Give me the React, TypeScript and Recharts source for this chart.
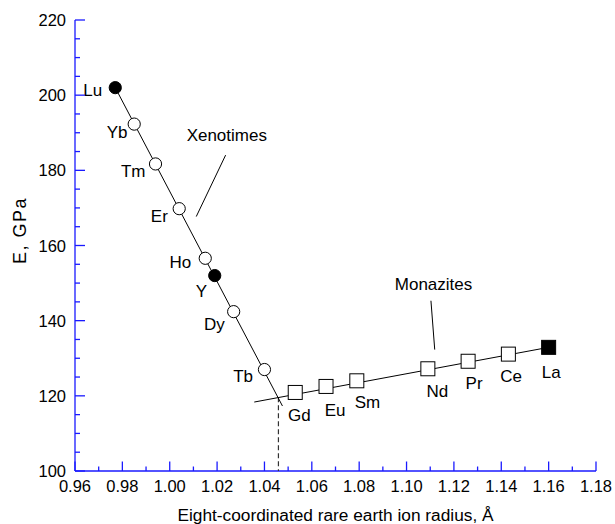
import React from 'react';
import { ScatterChart, Scatter, XAxis, YAxis } from 'recharts';

// ---- data ----
const xenotimeNames = ['Lu', 'Yb', 'Tm', 'Er', 'Ho', 'Y', 'Dy', 'Tb'];
const xenotimeRadius = [0.977, 0.985, 0.994, 1.004, 1.015, 1.019, 1.027, 1.04];
const xenotimeModulus = [202, 192.3, 181.7, 169.8, 156.6, 152, 142.4, 127];
const xenotimeFilled = ['Lu', 'Y'];

const monaziteNames = ['Gd', 'Eu', 'Sm', 'Nd', 'Pr', 'Ce', 'La'];
const monaziteRadius = [1.053, 1.066, 1.079, 1.109, 1.126, 1.143, 1.16];
const monaziteModulus = [120.9, 122.5, 124, 127.2, 129.2, 131.1, 132.9];
const monaziteFilled = ['La'];

const xenotimeFitX = [0.977, 1.0476];
const xenotimeFitY = [202, 117.3];
const monaziteFitX = [1.0357, 1.16];
const monaziteFitY = [118.35, 132.9];
const crossoverX = [1.0459, 1.0459];
const crossoverY = [119.6, 100];

const xenoLeaderX = [1.0236, 1.0112];
const xenoLeaderY = [184.05, 167.7];
const monaLeaderX = [1.1103, 1.1119];
const monaLeaderY = [145.3, 132.3];

const annotationTexts = ['Xenotimes', 'Monazites'];
const annotationX = [1.0241, 1.1114];
const annotationY = [189.5, 149.7];

const xTicks = [
  0.96, 0.97, 0.98, 0.99, 1.0, 1.01, 1.02, 1.03, 1.04, 1.05, 1.06, 1.07,
  1.08, 1.09, 1.1, 1.11, 1.12, 1.13, 1.14, 1.15, 1.16, 1.17, 1.18,
];
const yTicks = [
  100, 105, 110, 115, 120, 125, 130, 135, 140, 145, 150, 155, 160, 165, 170,
  175, 180, 185, 190, 195, 200, 205, 210, 215, 220,
];
const xDomain = [0.96, 1.18];
const yDomain = [100, 220];
const xTitle = 'Eight-coordinated rare earth ion radius, Å';
const yTitle = 'E, GPa';

// ---- layout / style (not data) ----
const FONT = '"Liberation Sans", Arial, Helvetica, sans-serif';
const AXIS = '#1a1aff';
const labelPlacement: Record<string, { anchor: string; dx: number; dy: number }> = {
  Lu: { anchor: 'end', dx: -13, dy: 2.5 },
  Yb: { anchor: 'end', dx: -6.7, dy: 7.9 },
  Tm: { anchor: 'end', dx: -10, dy: 7.5 },
  Er: { anchor: 'end', dx: -11.4, dy: 7.8 },
  Ho: { anchor: 'end', dx: -14, dy: 3.4 },
  Y: { anchor: 'end', dx: -7.7, dy: 15.1 },
  Dy: { anchor: 'end', dx: -9, dy: 12.5 },
  Tb: { anchor: 'end', dx: -11.4, dy: 6.5 },
  Gd: { anchor: 'middle', dx: 4.2, dy: 22.8 },
  Eu: { anchor: 'middle', dx: 9, dy: 23.2 },
  Sm: { anchor: 'middle', dx: 10.7, dy: 21 },
  Nd: { anchor: 'middle', dx: 9.5, dy: 22.5 },
  Pr: { anchor: 'middle', dx: 6, dy: 21.8 },
  Ce: { anchor: 'middle', dx: 2.7, dy: 21.5 },
  La: { anchor: 'middle', dx: 2.5, dy: 24.4 },
};

const zipPts = (xs: number[], ys: number[]) => xs.map((x, i) => ({ x, y: ys[i] }));

const xenotimeData = xenotimeNames.map((name, i) => ({
  name,
  x: xenotimeRadius[i],
  y: xenotimeModulus[i],
  filled: xenotimeFilled.includes(name),
}));
const monaziteData = monaziteNames.map((name, i) => ({
  name,
  x: monaziteRadius[i],
  y: monaziteModulus[i],
  filled: monaziteFilled.includes(name),
}));
const annotationData = annotationTexts.map((text, i) => ({
  text,
  x: annotationX[i],
  y: annotationY[i],
}));

const Empty = () => <g />;

const makeMarker = (kind: 'circle' | 'square') => (props: any) => {
  const { cx, cy, payload } = props;
  if (cx == null || cy == null) return <g />;
  const fill = payload.filled ? '#000' : '#fff';
  const p = labelPlacement[payload.name];
  return (
    <g>
      {kind === 'circle' ? (
        <circle cx={cx} cy={cy} r={6.1} fill={fill} stroke="#000" strokeWidth={1} />
      ) : (
        <rect x={cx - 7} y={cy - 7} width={14} height={14} fill={fill} stroke="#000" strokeWidth={1} />
      )}
      <text
        x={cx + p.dx}
        y={cy + p.dy + 6}
        textAnchor={p.anchor as any}
        fontSize={17}
        fontFamily={FONT}
        fill="#000"
      >
        {payload.name}
      </text>
    </g>
  );
};

const AnnotationShape = (props: any) => {
  const { cx, cy, payload } = props;
  if (cx == null || cy == null) return <g />;
  return (
    <text x={cx} y={cy + 6} textAnchor="middle" fontSize={17} fontFamily={FONT} fill="#000">
      {payload.text}
    </text>
  );
};

const XTick = (props: any) => {
  const { x, y, payload } = props;
  const v = payload.value as number;
  const major = Math.round(v * 100) % 2 === 0;
  return (
    <g>
      <line x1={x} x2={x} y1={y} y2={y - (major ? 9.5 : 4.5)} stroke={AXIS} strokeWidth={1.3} />
      {major && (
        <text x={x} y={y + 21} textAnchor="middle" fontSize={16.5} fontFamily={FONT} fill="#000">
          {v.toFixed(2)}
        </text>
      )}
    </g>
  );
};

const YTick = (props: any) => {
  const { x, y, payload } = props;
  const v = payload.value as number;
  const major = Math.round(v) % 20 === 0;
  return (
    <g>
      <line x1={x} x2={x + (major ? 10 : 5)} y1={y} y2={y} stroke={AXIS} strokeWidth={1.3} />
      {major && (
        <text x={x - 9} y={y + 6} textAnchor="end" fontSize={16.5} fontFamily={FONT} fill="#000">
          {String(v)}
        </text>
      )}
    </g>
  );
};

const YTitle = (props: any) => {
  const vb = props.viewBox || { x: 0, y: 0, width: 75, height: 450 };
  const x = vb.x + 20;
  const y = vb.y + vb.height / 2 - 15;
  return (
    <text
      x={x}
      y={y}
      transform={`rotate(-90 ${x} ${y})`}
      textAnchor="middle"
      dominantBaseline="central"
      fontSize={18}
      letterSpacing={1.5}
      fontFamily={FONT}
      fill="#000"
    >
      {yTitle}
    </text>
  );
};

export default function App() {
  return (
    <div style={{ position: 'absolute', left: 0, top: 0, background: '#fff' }}>
      <ScatterChart width={615} height={524} margin={{ top: 20, right: 19, left: 0, bottom: 0 }}>
        <XAxis
          xAxisId={0}
          type="number"
          dataKey="x"
          domain={xDomain}
          ticks={xTicks}
          interval={0}
          tickSize={0}
          tickMargin={0}
          tickLine={false}
          tick={<XTick />}
          axisLine={{ stroke: AXIS, strokeWidth: 1.3 }}
          height={53}
          allowDataOverflow
          label={{
            value: xTitle,
            position: 'insideBottom',
            offset: 3,
            fontSize: 17.3,
            fontFamily: FONT,
            fill: '#000',
          }}
        />
        <XAxis
          xAxisId="top"
          orientation="top"
          type="number"
          domain={xDomain}
          tick={false}
          tickLine={false}
          axisLine={{ stroke: AXIS, strokeWidth: 1.3 }}
          height={0}
          allowDataOverflow
        />
        <YAxis
          yAxisId={0}
          type="number"
          dataKey="y"
          domain={yDomain}
          ticks={yTicks}
          interval={0}
          tickSize={0}
          tickMargin={0}
          tickLine={false}
          tick={<YTick />}
          axisLine={{ stroke: AXIS, strokeWidth: 1.3 }}
          width={75}
          allowDataOverflow
          label={{ content: <YTitle /> }}
        />
        <YAxis
          yAxisId="right"
          orientation="right"
          type="number"
          domain={yDomain}
          tick={false}
          tickLine={false}
          axisLine={{ stroke: AXIS, strokeWidth: 1.3 }}
          width={0}
          allowDataOverflow
        />

        <Scatter
          data={zipPts(crossoverX, crossoverY)}
          line={{ stroke: '#333', strokeWidth: 1.2, strokeDasharray: '5 3' }}
          shape={<Empty />}
          isAnimationActive={false}
        />
        <Scatter
          data={zipPts(xenotimeFitX, xenotimeFitY)}
          line={{ stroke: '#000', strokeWidth: 1 }}
          shape={<Empty />}
          isAnimationActive={false}
        />
        <Scatter
          data={zipPts(monaziteFitX, monaziteFitY)}
          line={{ stroke: '#000', strokeWidth: 1 }}
          shape={<Empty />}
          isAnimationActive={false}
        />
        <Scatter
          data={zipPts(xenoLeaderX, xenoLeaderY)}
          line={{ stroke: '#000', strokeWidth: 1 }}
          shape={<Empty />}
          isAnimationActive={false}
        />
        <Scatter
          data={zipPts(monaLeaderX, monaLeaderY)}
          line={{ stroke: '#000', strokeWidth: 1 }}
          shape={<Empty />}
          isAnimationActive={false}
        />
        <Scatter data={xenotimeData} shape={makeMarker('circle')} isAnimationActive={false} />
        <Scatter data={monaziteData} shape={makeMarker('square')} isAnimationActive={false} />
        <Scatter data={annotationData} shape={<AnnotationShape />} isAnimationActive={false} />
      </ScatterChart>
    </div>
  );
}
